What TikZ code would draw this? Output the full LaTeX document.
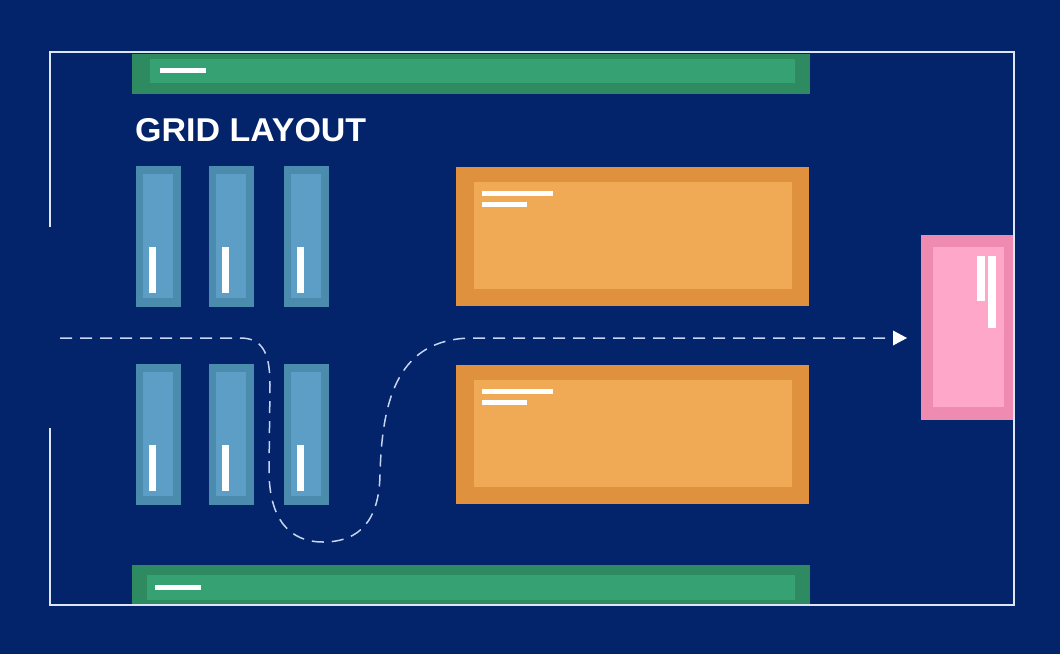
\documentclass[tikz,border=0pt]{standalone}
\usepackage{fontspec}
\setmainfont{Liberation Sans}
\usetikzlibrary{arrows.meta}
\definecolor{bgnavy}{HTML}{03246A}
\definecolor{framec}{HTML}{DCE6F7}
\definecolor{gout}{HTML}{2E8A61}
\definecolor{gin}{HTML}{36A172}
\definecolor{bout}{HTML}{4A8BAE}
\definecolor{bin}{HTML}{5D9EC7}
\definecolor{oout}{HTML}{E0913E}
\definecolor{oin}{HTML}{F0AA55}
\definecolor{pout}{HTML}{EF8AB0}
\definecolor{pin}{HTML}{FFA7C9}
\definecolor{dashc}{HTML}{C5D5F2}
\tikzset{
  blk/.style={rectangle, anchor=north west, inner sep=0pt, outer sep=0pt, draw=none},
  bar/.style={blk, fill=white},
  frameline/.style={draw=framec, line width=2pt},
  route/.style={draw=dashc, line width=1.5pt, dash pattern=on 12pt off 8pt}
}
\begin{document}
\begin{tikzpicture}[x=1pt,y=-1pt]
\useasboundingbox[fill=bgnavy] (0,0) rectangle (1060,654);
% green bars
\node[blk, fill=gout, minimum width=678pt, minimum height=40pt] (gtop) at (132,54) {};
\node[blk, fill=gin, minimum width=645pt, minimum height=24pt] (gtopin) at (150,59) {};
\node[bar, minimum width=46pt, minimum height=5pt] (gtopbar) at (160,68) {};
\node[blk, fill=gout, minimum width=678pt, minimum height=41pt] (gbot) at (132,565) {};
\node[blk, fill=gin, minimum width=648pt, minimum height=25pt] (gbotin) at (147,575) {};
\node[bar, minimum width=46pt, minimum height=5pt] (gbotbar) at (155,585) {};
% title
\node[anchor=base west, inner sep=0pt, text=white, font=\fontsize{33}{33}\selectfont\bfseries] (title) at (135,141) {\scalebox{1.03}[1]{GRID LAYOUT}};
% shelves
\foreach \x [count=\i] in {136,209,284} {
  \foreach \y/\r in {166/a,364/b} {
    \node[blk, fill=bout, minimum width=45pt, minimum height=141pt] (sh\r\i) at (\x,\y) {};
    \node[blk, fill=bin, minimum width=30pt, minimum height=124pt] (shin\r\i) at (\x+7,\y+8) {};
    \node[bar, minimum width=7pt, minimum height=46pt] (shbar\r\i) at (\x+13,\y+81) {};
  }
}
% orange boxes
\foreach \y/\r in {167/a,365/b} {
  \node[blk, fill=oout, minimum width=353pt, minimum height=139pt] (or\r) at (456,\y) {};
  \node[blk, fill=oin, minimum width=318pt, minimum height=107pt] (orin\r) at (474,\y+15) {};
  \node[bar, minimum width=71pt, minimum height=5pt] (orl\r) at (482,\y+24) {};
  \node[bar, minimum width=45pt, minimum height=5pt] (ors\r) at (482,\y+35) {};
}
% pink box
\node[blk, fill=pout, minimum width=93pt, minimum height=185pt] (pk) at (921,235) {};
\node[blk, fill=pin, minimum width=71pt, minimum height=160pt] (pkin) at (933,247) {};
\node[bar, minimum width=8pt, minimum height=45pt] (pkb1) at (977,256) {};
\node[bar, minimum width=8pt, minimum height=72pt] (pkb2) at (988,256) {};
% frame
\coordinate (f1) at (50,227);
\coordinate (f2) at (50,52);
\coordinate (f3) at (1014,52);
\coordinate (f4) at (1014,605);
\coordinate (f5) at (50,605);
\coordinate (f6) at (50,428);
\draw[frameline] (f1) -- (f2) -- (f3) -- (f4) -- (f5) -- (f6);
% dashed route
\coordinate (rs) at (60,338);
\coordinate (re) at (907,338);
\draw[route] (rs) -- (240,338) .. controls (262,338) and (270,352) .. (270,385)
  -- (269,470) .. controls (269,520) and (290,542) .. (323,542)
  .. controls (360,542) and (379,520) .. (380,475)
  .. controls (382,395) and (400,340) .. (470,338) -- (893,338);
\draw[draw=none, fill=white] (re) -- (893,330.5) -- (893,345.5) -- cycle;
\end{tikzpicture}
\end{document}
